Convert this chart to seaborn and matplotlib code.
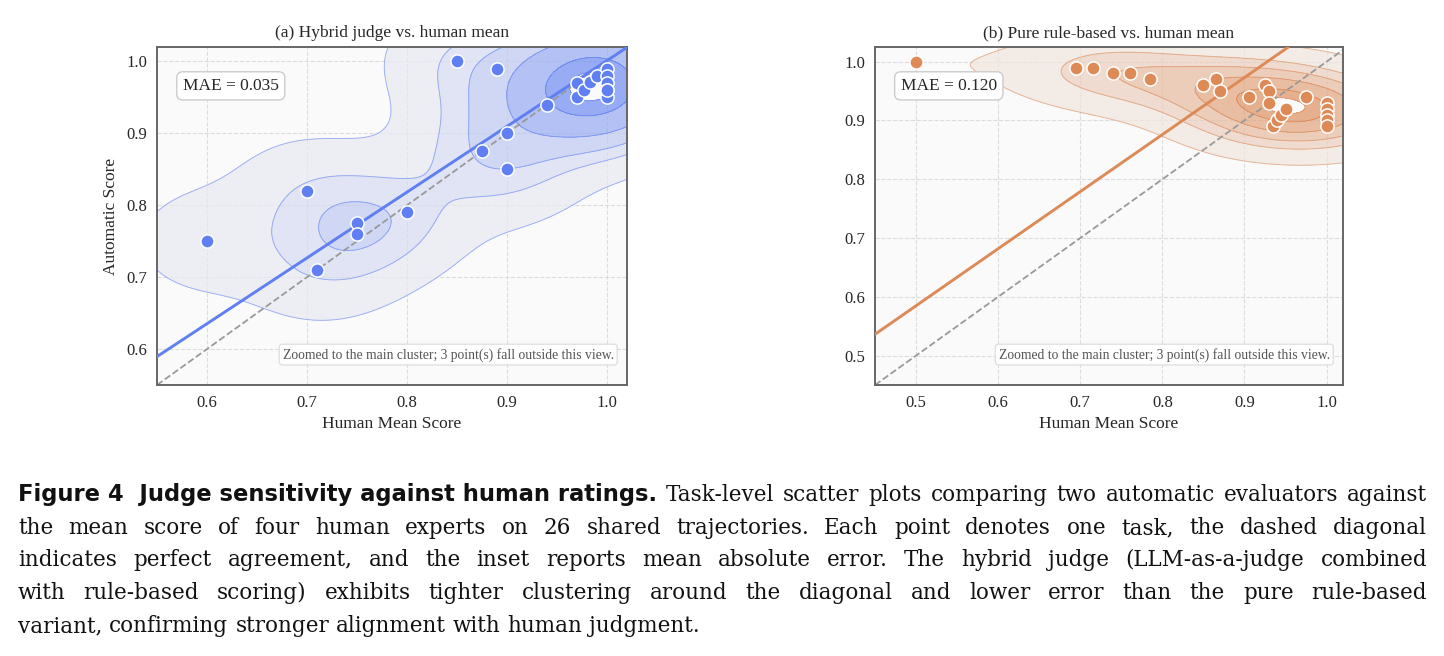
import numpy as np
import seaborn as sns
from matplotlib import pyplot as plt

# Task-level scores (26 tasks). The last three tasks of each panel sit outside the zoomed view.
human_a = [0.60, 0.70, 0.71, 0.75, 0.75, 0.80, 0.85, 0.875, 0.89, 0.90, 0.90, 0.94, 0.97,
           0.97, 0.977, 0.983, 0.99, 1.0, 1.0, 1.0, 1.0, 1.0, 1.0, 0.20, 0.30, 0.40]
auto_a = [0.75, 0.82, 0.71, 0.775, 0.76, 0.79, 1.00, 0.875, 0.99, 0.90, 0.85, 0.94, 0.97,
          0.95, 0.96, 0.972, 0.98, 0.99, 0.98, 0.97, 0.96, 0.95, 0.96, 0.26, 0.36, 0.45]
human_b = [0.50, 0.695, 0.715, 0.74, 0.76, 0.785, 0.85, 0.865, 0.87, 0.905, 0.925, 0.93, 0.93,
           0.935, 0.94, 0.945, 0.95, 0.975, 1.0, 1.0, 1.0, 1.0, 1.0, 0.30, 0.32, 0.36]
auto_b = [1.00, 0.99, 0.99, 0.98, 0.98, 0.97, 0.96, 0.97, 0.95, 0.94, 0.96, 0.95, 0.93,
          0.89, 0.90, 0.91, 0.92, 0.94, 0.93, 0.92, 0.91, 0.90, 0.89, 0.49, 0.50, 0.49]
mae_values = [0.035, 0.120]
titles = ['(a) Hybrid judge vs. human mean', '(b) Pure rule-based vs. human mean']
ticks_a = [0.6, 0.7, 0.8, 0.9, 1.0]
ticks_b = [0.5, 0.6, 0.7, 0.8, 0.9, 1.0]
x_limits = [(0.55, 1.02), (0.45, 1.02)]
y_limits = [(0.55, 1.02), (0.45, 1.025)]
colors = ['#5f7ff2', '#dd8a57']
kde_bandwidth = [(0.05, 0.05), (0.075, 0.04)]
kde_levels = [[0.05, 0.25, 0.45, 0.65, 0.85, 0.96], [0.115, 0.32, 0.5, 0.7, 0.88, 0.97]]

caption_bold = 'Figure 4  Judge sensitivity against human ratings.'
caption_lines = [
    'Task-level scatter plots comparing two automatic evaluators against',
    'the mean score of four human experts on 26 shared trajectories. Each point denotes one task, the dashed diagonal',
    'indicates perfect agreement, and the inset reports mean absolute error. The hybrid judge (LLM-as-a-judge combined',
    'with rule-based scoring) exhibits tighter clustering around the diagonal and lower error than the pure rule-based',
    'variant, confirming stronger alignment with human judgment.',
]


def cluster_density(x, y, bw, props):
    # axis-aligned gaussian kernels, levels as iso-proportions of the mass (like seaborn)
    gx = np.linspace(x.min() - 3 * bw[0], x.max() + 3 * bw[0], 240)
    gy = np.linspace(y.min() - 3 * bw[1], y.max() + 3 * bw[1], 240)
    xx, yy = np.meshgrid(gx, gy)
    dens = np.zeros_like(xx)
    for px, py in zip(x, y):
        dens += np.exp(-0.5 * (((xx - px) / bw[0]) ** 2 + ((yy - py) / bw[1]) ** 2))
    vals = np.sort(dens.ravel())[::-1]
    cum = np.cumsum(vals) / vals.sum()
    lv = vals[np.searchsorted(cum, 1 - np.array(props))]
    return xx, yy, dens, lv


sns.set_theme(style='whitegrid')
plt.rcParams['font.family'] = ['Liberation Serif', 'DejaVu Serif']

fig = plt.figure(figsize=(14.44, 6.56), dpi=100, facecolor='white')
ax_a = fig.add_axes([157 / 1444, 1 - 385 / 656, 470 / 1444, 338 / 656])
ax_b = fig.add_axes([875 / 1444, 1 - 385 / 656, 468 / 1444, 338 / 656])

panels = [(ax_a, human_a, auto_a, ticks_a), (ax_b, human_b, auto_b, ticks_b)]
for i, (ax, hum, aut, ticks) in enumerate(panels):
    x, y = np.array(hum), np.array(aut)
    (x0, x1), (y0, y1) = x_limits[i], y_limits[i]
    inside = (x >= x0) & (x <= x1) & (y >= y0) & (y <= y1)
    ax.set_facecolor('#fafafa')

    xx, yy, dens, lv = cluster_density(x[inside], y[inside], kde_bandwidth[i], kde_levels[i])
    cmap = sns.light_palette(colors[i], as_cmap=True)
    ax.contourf(xx, yy, dens, levels=lv, cmap=cmap, alpha=0.7, zorder=1)
    ax.contour(xx, yy, dens, levels=lv, colors=colors[i], linewidths=0.7, alpha=0.55, zorder=1)

    ax.axline((0, 0), slope=1, ls='--', color='#999999', lw=1.3, zorder=2)
    # fit human score on judge score, drawn back in judge-vs-human space
    m, c = np.polyfit(y, x, 1)
    ax.axline((c, 0), slope=1 / m, color=colors[i], lw=2.1, zorder=3)

    sns.scatterplot(x=x, y=y, ax=ax, s=90, color=colors[i], edgecolor='white', linewidth=1.1, zorder=4)

    ax.set_xlim(x0, x1), ax.set_ylim(y0, y1)
    ax.set_xticks(ticks), ax.set_yticks(ticks)
    ax.grid(True, ls='--', color='#dcdcdc', lw=0.8)
    ax.tick_params(direction='out', length=4, width=1, color='#555555', labelsize=12, pad=3)
    for s in ax.spines.values():
        s.set_color('#666666'), s.set_linewidth(1.4)
    ax.set_title(titles[i], fontsize=12.5, pad=7)
    ax.set_xlabel('Human Mean Score', fontsize=12.5, labelpad=4)
    ax.set_ylabel('Automatic Score' if i == 0 else '', fontsize=12.5, labelpad=5)

    ax.text(0.055, 0.885, f'MAE = {mae_values[i]:.3f}', transform=ax.transAxes, fontsize=12.5,
            va='center', ha='left', zorder=6,
            bbox=dict(boxstyle='round,pad=0.35', fc='white', ec='#cccccc', lw=1))
    n_out = int((~inside).sum())
    ax.text(0.972, 0.09, f'Zoomed to the main cluster; {n_out} point(s) fall outside this view.',
            transform=ax.transAxes, fontsize=9.8, color='#555555', va='center', ha='right', zorder=6,
            bbox=dict(boxstyle='round,pad=0.25', fc='white', ec='#dddddd', lw=1, alpha=0.9))

# Caption, justified word by word
renderer = fig.canvas.get_renderer()
left_edge, right_edge = 18 / 1444, 1427 / 1444
baselines = [501, 534, 566, 599, 632]
body_size = 15.5


def place_words(words, y, x_start, justify):
    texts = [fig.text(0, y, w, family='DejaVu Serif', fontsize=body_size, va='baseline', color='#111111')
             for w in words]
    widths = [t.get_window_extent(renderer).width / fig.bbox.width for t in texts]
    space = body_size * 0.32 / 72 * fig.dpi / fig.bbox.width
    gap = (right_edge - x_start - sum(widths)) / (len(words) - 1) if justify else space
    xpos = x_start
    for t, w in zip(texts, widths):
        t.set_x(xpos)
        xpos += w + gap


bold = fig.text(left_edge, 1 - baselines[0] / 656, caption_bold, family=['DejaVu Sans'],
                fontsize=16.3, fontweight='bold', va='baseline', color='#111111')
bold_end = bold.get_window_extent(renderer).x1 / fig.bbox.width
for k, line in enumerate(caption_lines):
    start = bold_end + 9 / 1444 if k == 0 else left_edge
    place_words(line.split(' '), 1 - baselines[k] / 656, start, justify=k < len(caption_lines) - 1)

fig.savefig('out.png', dpi=100)
